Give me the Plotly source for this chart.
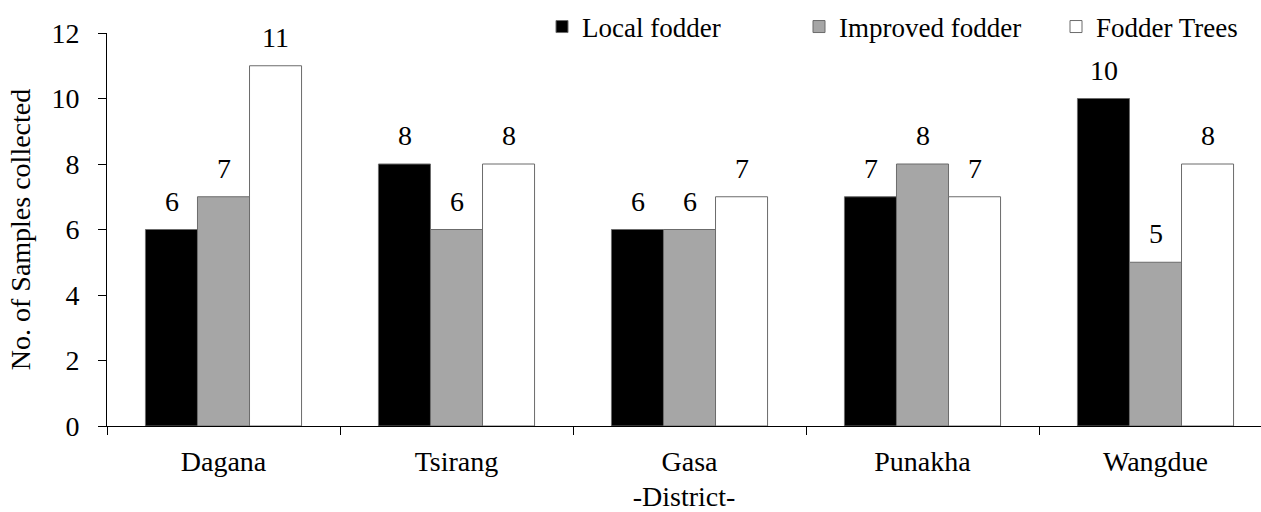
import plotly.graph_objects as go

districts = ["Dagana", "Tsirang", "Gasa", "Punakha", "Wangdue"]
local_fodder = [6, 8, 6, 7, 10]
improved_fodder = [7, 6, 6, 8, 5]
fodder_trees = [11, 8, 7, 7, 8]
series_names = ["Local fodder", "Improved fodder", "Fodder Trees"]
series_colors = ["#000000", "#a6a6a6", "#ffffff"]
y_ticks = [0, 2, 4, 6, 8, 10, 12]

FONT = "Liberation Serif, Times New Roman, serif"
FS = 28

fig = go.Figure()
all_series = [local_fodder, improved_fodder, fodder_trees]
for name, vals, col in zip(series_names, all_series, series_colors):
    fig.add_trace(go.Bar(
        x=districts, y=vals, name=name,
        marker=dict(color=col, line=dict(color="#6b6b6b", width=1)),
    ))

# value labels above bars
offsets = [-52, 0, 52]
for vals, dx in zip(all_series, offsets):
    for d, v in zip(districts, vals):
        fig.add_annotation(x=d, y=v, text=str(v), showarrow=False,
                           xshift=dx, yshift=11, yanchor="bottom",
                           font=dict(family=FONT, size=FS, color="#000"))

L, T, B = 107, 33, 86
plot_w = 1261 - L
cat_w = 233
fig.update_layout(
    width=1261, height=512,
    margin=dict(l=L, r=0, t=T, b=B, autoexpand=False),
    paper_bgcolor="white", plot_bgcolor="white",
    barmode="group", bargap=0.33, bargroupgap=0,
    font=dict(family=FONT, size=FS, color="#000"),
    showlegend=True,
    legend=dict(orientation="h", x=(542 - L) / plot_w, xanchor="left",
                y=1.0153, yanchor="middle",
                font=dict(family=FONT, size=27), entrywidth=212, entrywidthmode="pixels",
                itemwidth=30, bgcolor="rgba(0,0,0,0)", traceorder="normal"),
    xaxis=dict(
        range=[-0.5, -0.5 + plot_w / cat_w], automargin=False,
        showline=True, linecolor="#000", linewidth=1,
        ticks="outside", tickson="boundaries", ticklen=8, tickcolor="#000",
        tickfont=dict(family=FONT, size=FS), ticklabelstandoff=10,
        showgrid=False, zeroline=False,
        title=dict(text="-District-", font=dict(family=FONT, size=FS), standoff=18),
    ),
    yaxis=dict(
        range=[0, 12], tickvals=y_ticks, automargin=False,
        showline=True, linecolor="#000", linewidth=1,
        ticks="outside", ticklen=8, tickcolor="#000",
        tickfont=dict(family=FONT, size=FS), ticklabelstandoff=13,
        showgrid=False, zeroline=False,
        title=dict(text="No. of Samples collected", font=dict(family=FONT, size=FS), standoff=12),
    ),
)

fig.write_html(
    "out.html",
    config={"displayModeBar": False},
    post_script="document.body.style.margin='0';document.body.style.overflow='hidden';",
)
